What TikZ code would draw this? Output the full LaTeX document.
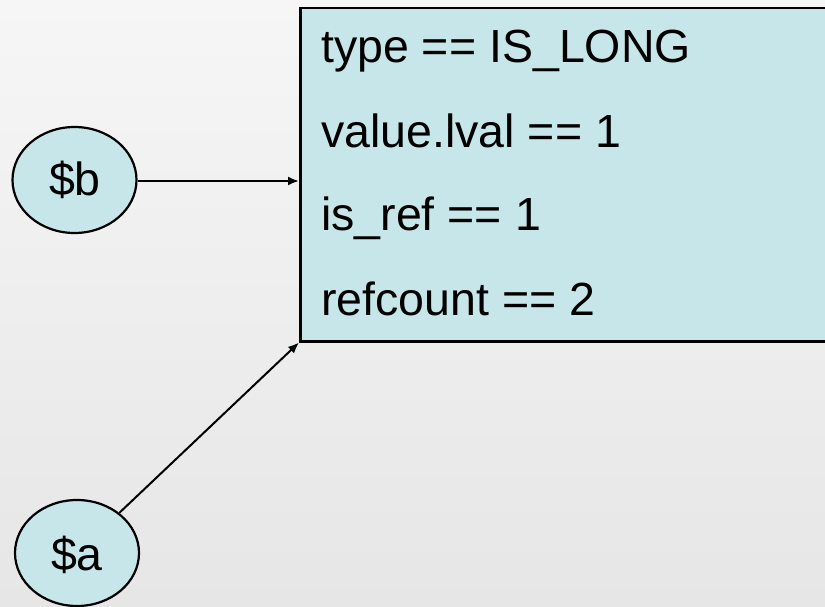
\documentclass[tikz,border=0pt]{standalone}
\usepackage{fontspec}
\setmainfont{Liberation Sans}
\usetikzlibrary{shapes.geometric,arrows.meta}
\definecolor{boxfill}{RGB}{199,230,233}
\definecolor{bgtop}{RGB}{246,246,246}
\definecolor{bgbot}{RGB}{230,230,230}
\tikzset{
  varnode/.style={ellipse,draw=black,line width=2.2pt,fill=boxfill,minimum width=124pt,minimum height=106pt,inner sep=0pt},
  vartext/.style={anchor=base,inner sep=0pt,font=\fontsize{46.5}{56}\selectfont},
  fieldtext/.style={anchor=base west,inner sep=0pt,font=\fontsize{46.5}{56}\selectfont},
  refarrow/.style={line width=2pt,-{Latex[length=11pt,width=9pt]}}
}
\begin{document}
\begin{tikzpicture}[x=1pt,y=-1pt]
\useasboundingbox (0,0) rectangle (825,607);
\clip (0,0) rectangle (825,607);
\shade[top color=bgtop,bottom color=bgbot] (0,0) rectangle (825,607);
% value box
\node[draw=black,line width=2.5pt,fill=boxfill,anchor=north west,minimum width=560pt,minimum height=333pt,inner sep=0pt] (zv) at (299,7) {};
\node[fieldtext] (f1) at (321,63) {type == IS\_LONG};
\node[fieldtext] (f2) at (321,148) {value.lval == 1};
\node[fieldtext] (f3) at (321,230) {is\_ref == 1};
\node[fieldtext] (f4) at (321,315) {refcount == 2};
% variables
\node[varnode] (b) at (74.5,180) {};
\node[vartext] (bt) at (75,195) {\$b};
\node[varnode] (a) at (77,553) {};
\node[vartext] (at) at (77,570) {\$a};
% arrows
\draw[refarrow] (b.east |- 0,181) -- (zv.west |- 0,181);
\draw[refarrow] (a) -- (zv.south west);
\end{tikzpicture}
\end{document}
